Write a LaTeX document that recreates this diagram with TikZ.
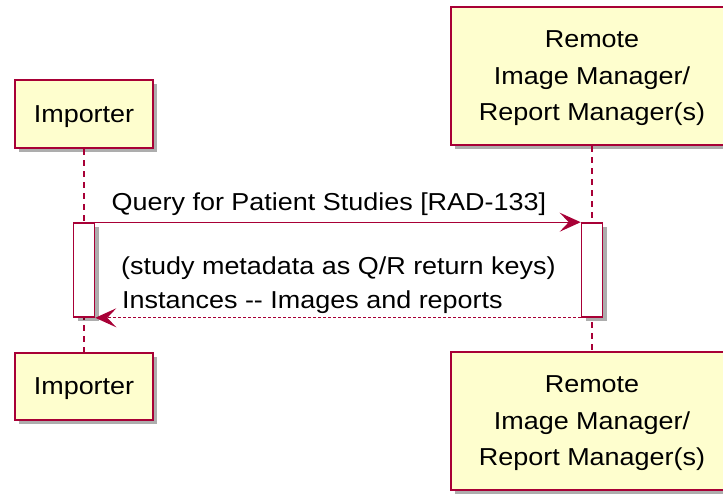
\documentclass[tikz,border=0pt]{standalone}
\usepackage{fontspec}
\setmainfont{Liberation Sans}[FakeStretch=1.1]
\usetikzlibrary{arrows.meta,shadows}
\definecolor{umlred}{HTML}{A80036}
\definecolor{umlfill}{HTML}{FEFECE}
\tikzset{
  umlshadow/.style={drop shadow={shadow xshift=4pt,shadow yshift=-4pt,fill=black,opacity=0.32}},
  participant/.style={draw=umlred,line width=2pt,fill=umlfill,align=center,inner sep=0pt,
    text depth=0pt,font=\fontsize{24.5}{36.5}\selectfont,umlshadow},
  activation/.style={draw=umlred,line width=1.6pt,fill=white,minimum width=21pt,
    minimum height=94pt,inner sep=0pt,umlshadow},
  lifeline/.style={draw=umlred,line width=1.3pt,dash pattern=on 6pt off 5pt},
  msgtip/.style={-{Stealth[length=21pt,width=19pt,inset=9pt]}},
  callmsg/.style={draw=umlred,line width=1.4pt,msgtip,color=umlred},
  replymsg/.style={draw=umlred,line width=1.2pt,dash pattern=on 3pt off 2pt,msgtip,color=umlred},
  msgtext/.style={anchor=base west,inner sep=0pt,font=\fontsize{24.5}{34}\selectfont,text=black}
}
\begin{document}
\begin{tikzpicture}[x=1pt,y=-1pt]
  \clip (0,0) rectangle (723,495);
  \fill[white] (0,0) rectangle (723,495);

  % participants, head and foot
  \node[participant,minimum width=138pt,minimum height=68pt] (impT) at (84,114) {Importer};
  \node[participant,minimum width=282pt,minimum height=138pt] (remT) at (592,76)
    {Remote\\Image Manager/\\Report Manager(s)};
  \node[participant,minimum width=138pt,minimum height=67pt] (impB) at (84,386) {Importer};
  \node[participant,minimum width=282pt,minimum height=138pt] (remB) at (592,421)
    {Remote\\Image Manager/\\Report Manager(s)};

  % lifelines
  \draw[lifeline] (impT.south) -- (impB.north);
  \draw[lifeline] (remT.south) -- (remB.north);

  % activation bars
  \node[activation] (actI) at (84,270) {};
  \node[activation] (actR) at (592,270) {};

  % request and reply
  \draw[callmsg] (actI.north) -- (actR.north west);
  \node[msgtext] (qlabel) at (111.5,210.5) {Query for Patient Studies [RAD-133]};

  \draw[replymsg] (actR.south west) -- (actI.south east);
  \node[msgtext] (rlabel1) at (121,274) {(study metadata as Q/R return keys)};
  \node[msgtext] (rlabel2) at (122,308) {Instances -{}- Images and reports};
\end{tikzpicture}
\end{document}
